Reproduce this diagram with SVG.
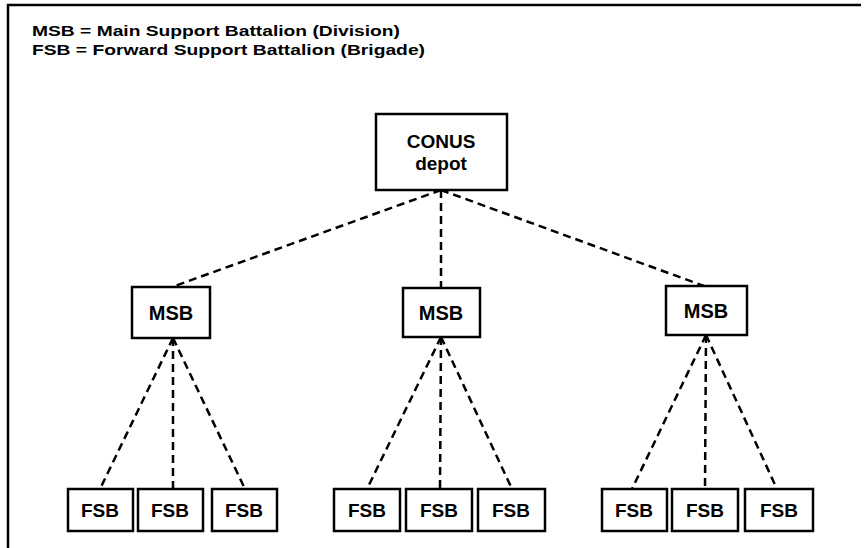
<svg xmlns="http://www.w3.org/2000/svg" width="865" height="548" viewBox="0 0 865 548">
<style>
.box{fill:#fff;stroke:#000;stroke-width:2.5}
.lbl{font-family:"Liberation Sans",Arial,sans-serif;font-weight:bold;fill:#000;text-anchor:middle}
.leg{font-family:"Liberation Sans",Arial,sans-serif;font-weight:bold;fill:#000;font-size:15px}
.dash{fill:none;stroke:#000;stroke-width:2.5;stroke-dasharray:8 5}
.frame{fill:none;stroke:#000;stroke-width:2.5}
</style>
<rect width="865" height="548" fill="#fff"/>
<path class="frame" d="M8,548 V5 H861"/>
<g id="legend">
<text class="leg" x="32" y="36" textLength="368" lengthAdjust="spacingAndGlyphs">MSB = Main Support Battalion (Division)</text>
<text class="leg" x="32" y="55" textLength="393" lengthAdjust="spacingAndGlyphs">FSB = Forward Support Battalion (Brigade)</text>
</g>
<g id="connectors">
<line class="dash" x1="441" y1="190" x2="172" y2="287"/>
<line class="dash" x1="441" y1="190" x2="441" y2="288"/>
<line class="dash" x1="441" y1="190" x2="704" y2="286"/>
<line class="dash" x1="173" y1="338" x2="100" y2="489"/>
<line class="dash" x1="173" y1="338" x2="173" y2="489"/>
<line class="dash" x1="173" y1="338" x2="245" y2="489"/>
<line class="dash" x1="441" y1="337" x2="367" y2="489"/>
<line class="dash" x1="441" y1="337" x2="440" y2="489"/>
<line class="dash" x1="441" y1="337" x2="512" y2="489"/>
<line class="dash" x1="706" y1="335" x2="632" y2="489"/>
<line class="dash" x1="706" y1="335" x2="705" y2="489"/>
<line class="dash" x1="706" y1="335" x2="777" y2="489"/>
</g>
<g id="conus">
<rect class="box" x="376" y="114" width="131" height="76"/>
<text class="lbl" x="441" y="148" font-size="19">CONUS</text>
<text class="lbl" x="441" y="170" font-size="19">depot</text>
</g>
<g id="msb1"><rect class="box" x="132" y="287" width="78" height="51"/><text class="lbl" x="171" y="320" font-size="20">MSB</text></g>
<g id="msb2"><rect class="box" x="403" y="288" width="77" height="49"/><text class="lbl" x="441" y="320" font-size="20">MSB</text></g>
<g id="msb3"><rect class="box" x="666" y="286" width="81" height="49"/><text class="lbl" x="706" y="318" font-size="20">MSB</text></g>
<g id="fsb1"><rect class="box" x="68" y="489" width="65" height="42"/><text class="lbl" x="100" y="517" font-size="19">FSB</text></g>
<g id="fsb2"><rect class="box" x="138" y="489" width="65" height="42"/><text class="lbl" x="170" y="517" font-size="19">FSB</text></g>
<g id="fsb3"><rect class="box" x="212" y="489" width="65" height="42"/><text class="lbl" x="244" y="517" font-size="19">FSB</text></g>
<g id="fsb4"><rect class="box" x="334" y="489" width="66" height="42"/><text class="lbl" x="367" y="517" font-size="19">FSB</text></g>
<g id="fsb5"><rect class="box" x="406" y="489" width="66" height="42"/><text class="lbl" x="439" y="517" font-size="19">FSB</text></g>
<g id="fsb6"><rect class="box" x="478" y="489" width="67" height="42"/><text class="lbl" x="511" y="517" font-size="19">FSB</text></g>
<g id="fsb7"><rect class="box" x="602" y="489" width="65" height="42"/><text class="lbl" x="634" y="517" font-size="19">FSB</text></g>
<g id="fsb8"><rect class="box" x="672" y="489" width="66" height="42"/><text class="lbl" x="705" y="517" font-size="19">FSB</text></g>
<g id="fsb9"><rect class="box" x="745" y="489" width="68" height="42"/><text class="lbl" x="779" y="517" font-size="19">FSB</text></g>
</svg>
